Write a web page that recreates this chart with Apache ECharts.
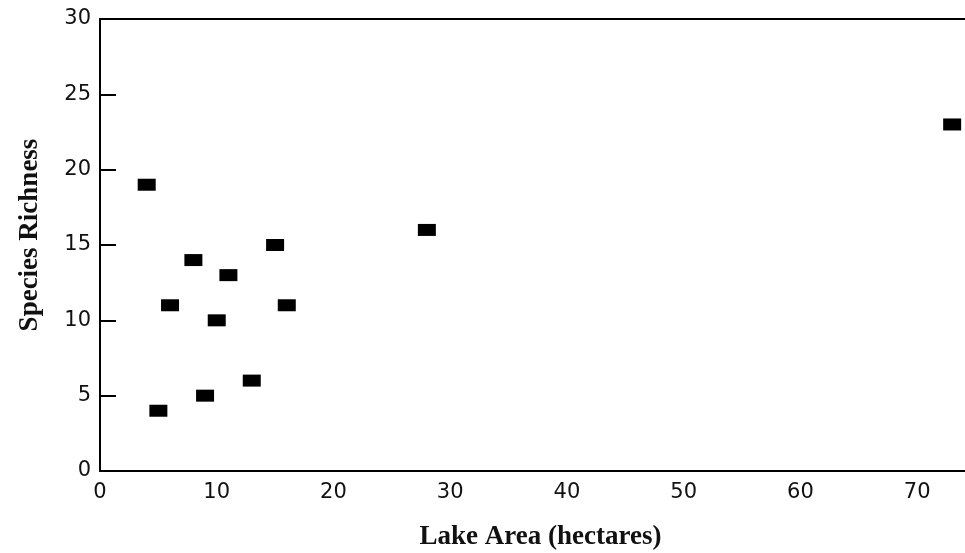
<!DOCTYPE html>
<html>
<head>
<meta charset="utf-8">
<style>
  html, body { margin: 0; padding: 0; background: #fff; }
  #chart { width: 965px; height: 553px; }
</style>
<script src="https://cdn.jsdelivr.net/npm/echarts@6/dist/echarts.min.js"></script>
</head>
<body>
<div id="chart"></div>
<script>
// Lake area (hectares) and species richness for each surveyed lake
const lakeArea = [4, 15, 8, 11, 6, 16, 10, 13, 9, 5, 28, 73];
const speciesRichness = [19, 15, 14, 13, 11, 11, 10, 6, 5, 4, 16, 23];

const xTicks = [0, 10, 20, 30, 40, 50, 60, 70];
const yTicks = [0, 5, 10, 15, 20, 25, 30];

const xTitle = 'Lake Area (hectares)';
const yTitle = 'Species Richness';

const points = lakeArea.map((a, i) => [a, speciesRichness[i]]);

const tickFont = { fontFamily: 'DejaVu Sans', fontSize: 21, color: '#111' };
const titleFont = { fontFamily: 'Liberation Serif', fontSize: 27, fontWeight: 'bold', color: '#111' };

const chart = echarts.init(document.getElementById('chart'), null, { renderer: 'canvas' });

chart.setOption({
  animation: false,
  backgroundColor: '#fff',
  grid: { left: 100, right: 0, top: 19, bottom: 82, containLabel: false, outerBoundsMode: 'none' },
  xAxis: [
    {
      type: 'value',
      min: 0,
      max: 74.1,
      interval: 10,
      name: xTitle,
      nameLocation: 'middle',
      nameGap: 53,
      nameTextStyle: { ...titleFont, padding: [0, 0, 0, 16] },
      axisLine: { show: true, onZero: false, lineStyle: { color: '#000', width: 2 } },
      axisTick: { show: false },
      splitLine: { show: false },
      axisLabel: {
        ...tickFont,
        margin: 11,
        formatter: v => (xTicks.includes(v) ? String(v) : '')
      }
    },
    {
      // top frame line
      type: 'value',
      position: 'top',
      min: 0,
      max: 74.1,
      axisLine: { show: true, onZero: false, lineStyle: { color: '#000', width: 2 } },
      axisTick: { show: false },
      axisLabel: { show: false },
      splitLine: { show: false }
    }
  ],
  yAxis: {
    type: 'value',
    min: 0,
    max: 30,
    interval: 5,
    name: yTitle,
    nameLocation: 'middle',
    nameGap: 56,
    nameTextStyle: { ...titleFont, padding: [0, 0, 0, 20] },
    axisLine: { show: true, onZero: false, lineStyle: { color: '#000', width: 2 } },
    axisTick: { show: true, inside: true, length: 16, lineStyle: { color: '#000', width: 2 } },
    splitLine: { show: false },
    axisLabel: {
      ...tickFont,
      margin: 9,
      formatter: v => (yTicks.includes(v) ? String(v) : '')
    }
  },
  series: [
    {
      type: 'scatter',
      xAxisIndex: 0,
      data: points,
      symbol: 'rect',
      symbolSize: [18, 12],
      itemStyle: { color: '#000', opacity: 1 }
    }
  ]
});
</script>
</body>
</html>
